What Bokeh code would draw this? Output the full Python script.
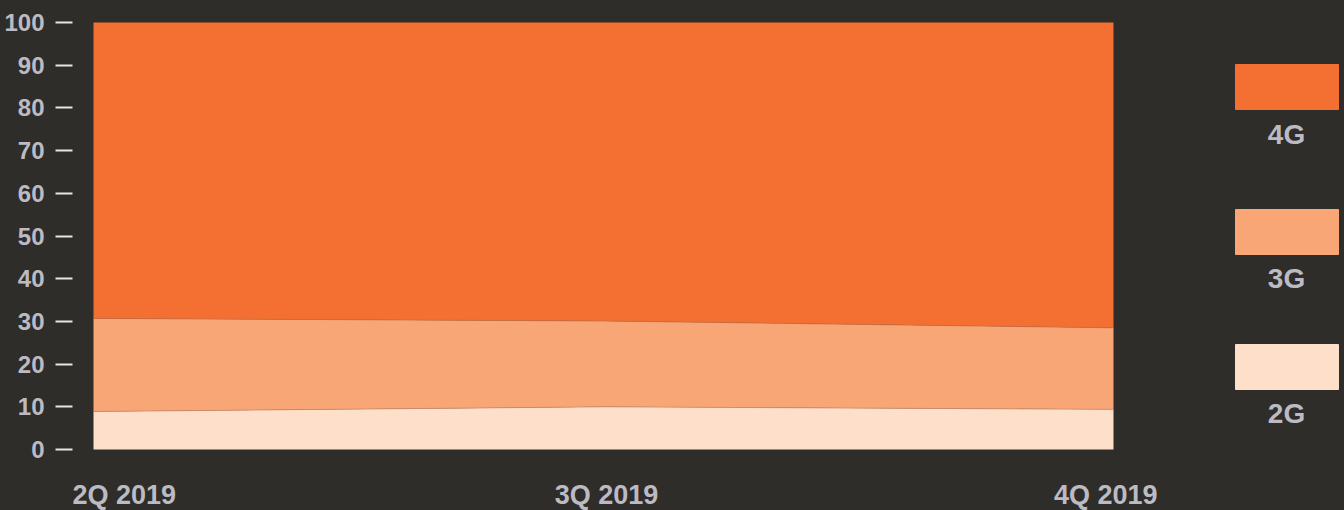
from bokeh.plotting import figure
from bokeh.models import ColumnDataSource, Range1d, FixedTicker
from bokeh.core.properties import value
from bokeh.embed import file_html
from bokeh.resources import INLINE

# ---- data ----
quarters = ["2Q 2019", "3Q 2019", "4Q 2019"]
share_2g = [8.9, 10.0, 9.4]
share_3g = [21.8, 20.1, 19.1]
share_4g = [69.3, 69.9, 71.5]
y_ticks = [0, 10, 20, 30, 40, 50, 60, 70, 80, 90, 100]
series_names = ["2G", "3G", "4G"]
series_colors = ["#fee0ca", "#f9a677", "#f37032"]

BG = "#2e2d2a"
TXT = "#bcbbc3"
FONT = "Liberation Sans"

W, H = 1344, 510
LEFT = 72                   # frame left edge (px)
X0, X2 = 93, 1113           # px of first / last quarter
Y100, Y0 = 22, 449          # px of 100 % / 0 %
ppx = (X2 - X0) / 2
ppy = (Y0 - Y100) / 100

xs = list(range(len(quarters)))
cum_2g = share_2g
cum_3g = [a + b for a, b in zip(share_2g, share_3g)]
src = ColumnDataSource(dict(x=xs, g2=share_2g, g3=share_3g, g4=share_4g,
                            c2=cum_2g, c3=cum_3g))

p = figure(width=W, height=H, output_backend="svg", toolbar_location=None,
           x_range=Range1d(-(X0 - LEFT) / ppx, 2 + (W - X2) / ppx),
           y_range=Range1d(-(H - Y0) / ppy, 100 + Y100 / ppy),
           min_border_left=LEFT, min_border_right=0, min_border_top=0,
           min_border_bottom=0)
p.extra_x_ranges = {"px": Range1d(LEFT, W)}
p.extra_y_ranges = {"px": Range1d(H, 0)}
p.background_fill_color = None
p.border_fill_color = BG
p.outline_line_color = None
p.grid.visible = False
p.xaxis.visible = False
p.styles = {"background-color": BG}

p.varea_stack(["g2", "g3", "g4"], x="x", color=series_colors, source=src)
p.line("x", "c2", source=src, line_color="#c98b6c", line_width=1, line_alpha=0.8)
p.line("x", "c3", source=src, line_color="#c96f45", line_width=1, line_alpha=0.8)

ya = p.yaxis[0]
ya.ticker = FixedTicker(ticks=y_ticks)
ya.axis_line_color = None
ya.major_tick_line_color = "#e6e6e6"
ya.major_tick_line_width = 2
ya.major_tick_out = 17
ya.major_tick_in = 0
ya.minor_tick_line_color = None
ya.major_label_standoff = 11
ya.major_label_text_font = FONT
ya.major_label_text_font_style = "bold"
ya.major_label_text_font_size = "24px"
ya.major_label_text_color = TXT

# x-axis labels (anchored to the data x positions)
aligns = ["left", "center", "right"]
offsets = [-21, 3, 44]
for i, q in enumerate(quarters):
    p.text(x=[xs[i]], y=[0], text=[q], x_offset=offsets[i], y_offset=45,
           text_align=aligns[i], text_baseline="alphabetic",
           text_font=value(FONT), text_font_style="bold",
           text_font_size="27px", text_color=TXT)

# ---- legend (pixel ranges) ----
leg_names = series_names[::-1]
leg_colors = series_colors[::-1]
leg_src = ColumnDataSource(dict(
    name=leg_names, color=leg_colors,
    left=[1235] * 3, right=[1338] * 3,
    top=[64, 209, 344], bottom=[109, 254, 389],
    tx=[1286] * 3, ty=[134, 278, 413]))
p.quad(left="left", right="right", top="top", bottom="bottom",
       color="color", source=leg_src, x_range_name="px", y_range_name="px")
p.text(x="tx", y="ty", text="name", source=leg_src, text_align="center",
       text_baseline="alphabetic", text_font=value(FONT),
       text_font_style="bold", text_font_size="28px", text_color=TXT,
       x_range_name="px", y_range_name="px")

open("out.html", "w").write(file_html(p, INLINE))
